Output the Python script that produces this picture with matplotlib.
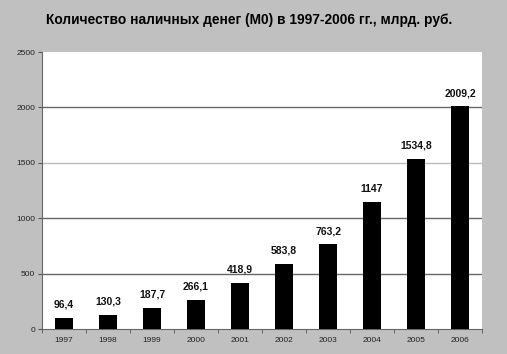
import matplotlib
matplotlib.use("Agg")
import matplotlib.pyplot as plt
import numpy as np

years = ["1997", "1998", "1999", "2000", "2001", "2002", "2003", "2004", "2005", "2006"]
values = [96.4, 130.3, 187.7, 266.1, 418.9, 583.8, 763.2, 1147, 1534.8, 2009.2]
labels = ["96,4", "130,3", "187,7", "266,1", "418,9", "583,8", "763,2", "1147", "1534,8", "2009,2"]
yticks = [0, 500, 1000, 1500, 2000, 2500]

plt.rcParams['font.family'] = ['Liberation Sans', 'DejaVu Sans']
bg = "#c0c0c0"
fig = plt.figure(figsize=(5.07, 3.54), dpi=100, facecolor=bg)
ax = fig.add_axes([42/507, 1-329/354, 440/507, 277/354])
ax.set_facecolor("white")

x = np.arange(len(years))
ax.bar(x, values, width=0.43, color="black", zorder=3)
for xi, v, lab in zip(x, values, labels):
    ax.annotate(lab, (xi, v), xytext=(0, 6), textcoords="offset points",
                ha="center", va="bottom", fontsize=7.5, fontweight="bold", color="#111111")

ax.set_xlim(-0.5, len(years) - 0.5)
ax.set_ylim(0, 2500)
ax.set_yticks(yticks)
ax.set_yticklabels([str(t) for t in yticks], fontsize=6, color="#222222")
for t in yticks[1:-1]:
    c = "#bbbbbb" if t == 1500 else "#666666"
    ax.axhline(t, color=c, linewidth=1.0, zorder=1)

ax.set_xticks(x)
ax.set_xticklabels(years, fontsize=6, color="#222222")
ax.tick_params(axis="x", length=0, pad=6)
ax.set_xticks(np.arange(-0.5, len(years), 1), minor=True)
ax.tick_params(axis="x", which="minor", length=3, color="#555555", direction="out")
ax.tick_params(axis="y", length=3, color="#555555", pad=2)

for s in ["top", "right"]:
    ax.spines[s].set_visible(False)
ax.spines["left"].set_color("#666666")
ax.spines["bottom"].set_color("#666666")

fig.text(249/507, 1-20/354, "Количество наличных денег (М0) в 1997-2006 гг., млрд. руб.",
         ha="center", va="center", fontsize=9.9, fontweight="bold", color="black")

fig.savefig("out.png", dpi=100, facecolor=bg)
